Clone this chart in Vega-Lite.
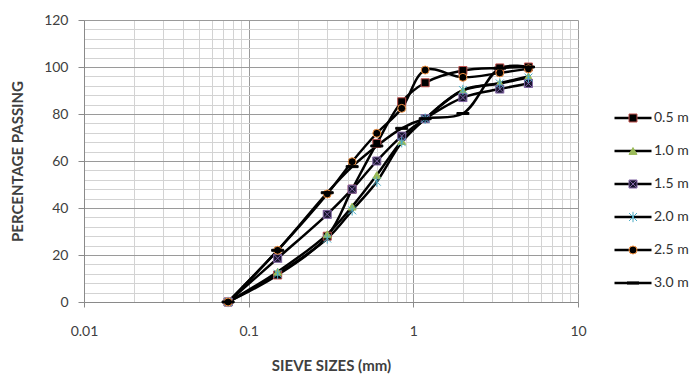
{
  "$schema": "https://vega.github.io/schema/vega-lite/v6.json",
  "width": 494,
  "height": 282,
  "autosize": {"type": "none"},
  "padding": {"left": 84, "top": 20, "right": 116, "bottom": 74},
  "background": "white",
  "config": {
    "font": "Lato",
    "view": {"stroke": null},
    "axis": {"labelFont": "Lato", "titleFont": "Lato", "labelColor": "#404040", "titleColor": "#404040"}
  },
  "data": {
    "values": [
      {"depth": "0.5 m", "size": 0.075, "pass": 0},
      {"depth": "0.5 m", "size": 0.15, "pass": 11.5},
      {"depth": "0.5 m", "size": 0.3, "pass": 28},
      {"depth": "0.5 m", "size": 0.425, "pass": 48},
      {"depth": "0.5 m", "size": 0.6, "pass": 67.5},
      {"depth": "0.5 m", "size": 0.85, "pass": 85.2},
      {"depth": "0.5 m", "size": 1.18, "pass": 93.3},
      {"depth": "0.5 m", "size": 2.0, "pass": 98.5},
      {"depth": "0.5 m", "size": 3.35, "pass": 99.6},
      {"depth": "0.5 m", "size": 5.0, "pass": 100},
      {"depth": "1.0 m", "size": 0.075, "pass": 0},
      {"depth": "1.0 m", "size": 0.15, "pass": 12.9},
      {"depth": "1.0 m", "size": 0.3, "pass": 28.8},
      {"depth": "1.0 m", "size": 0.425, "pass": 40.6},
      {"depth": "1.0 m", "size": 0.6, "pass": 54},
      {"depth": "1.0 m", "size": 0.85, "pass": 68.5},
      {"depth": "1.0 m", "size": 1.18, "pass": 78},
      {"depth": "1.0 m", "size": 2.0, "pass": 90},
      {"depth": "1.0 m", "size": 3.35, "pass": 93.2},
      {"depth": "1.0 m", "size": 5.0, "pass": 96},
      {"depth": "1.5 m", "size": 0.075, "pass": 0},
      {"depth": "1.5 m", "size": 0.15, "pass": 18.6},
      {"depth": "1.5 m", "size": 0.3, "pass": 37.3},
      {"depth": "1.5 m", "size": 0.425, "pass": 48},
      {"depth": "1.5 m", "size": 0.6, "pass": 60},
      {"depth": "1.5 m", "size": 0.85, "pass": 70.6},
      {"depth": "1.5 m", "size": 1.18, "pass": 78},
      {"depth": "1.5 m", "size": 2.0, "pass": 87},
      {"depth": "1.5 m", "size": 3.35, "pass": 90.6},
      {"depth": "1.5 m", "size": 5.0, "pass": 93},
      {"depth": "2.0 m", "size": 0.075, "pass": 0},
      {"depth": "2.0 m", "size": 0.15, "pass": 12},
      {"depth": "2.0 m", "size": 0.3, "pass": 27},
      {"depth": "2.0 m", "size": 0.425, "pass": 39},
      {"depth": "2.0 m", "size": 0.6, "pass": 51.2},
      {"depth": "2.0 m", "size": 0.85, "pass": 68},
      {"depth": "2.0 m", "size": 1.18, "pass": 78},
      {"depth": "2.0 m", "size": 2.0, "pass": 90.2},
      {"depth": "2.0 m", "size": 3.35, "pass": 93},
      {"depth": "2.0 m", "size": 5.0, "pass": 95.5},
      {"depth": "2.5 m", "size": 0.075, "pass": 0},
      {"depth": "2.5 m", "size": 0.15, "pass": 22},
      {"depth": "2.5 m", "size": 0.3, "pass": 46},
      {"depth": "2.5 m", "size": 0.425, "pass": 59.7},
      {"depth": "2.5 m", "size": 0.6, "pass": 71.8},
      {"depth": "2.5 m", "size": 0.85, "pass": 82.4},
      {"depth": "2.5 m", "size": 1.18, "pass": 98.7},
      {"depth": "2.5 m", "size": 2.0, "pass": 95.6},
      {"depth": "2.5 m", "size": 3.35, "pass": 97.5},
      {"depth": "2.5 m", "size": 5.0, "pass": 99.2},
      {"depth": "3.0 m", "size": 0.075, "pass": 0},
      {"depth": "3.0 m", "size": 0.15, "pass": 22},
      {"depth": "3.0 m", "size": 0.3, "pass": 46.5},
      {"depth": "3.0 m", "size": 0.425, "pass": 57.6},
      {"depth": "3.0 m", "size": 0.6, "pass": 66.4},
      {"depth": "3.0 m", "size": 0.85, "pass": 73.9},
      {"depth": "3.0 m", "size": 1.18, "pass": 78},
      {"depth": "3.0 m", "size": 2.0, "pass": 80.2},
      {"depth": "3.0 m", "size": 3.35, "pass": 99.5},
      {"depth": "3.0 m", "size": 5.0, "pass": 100}
    ]
  },
  "encoding": {
    "x": {
      "field": "size", "type": "quantitative",
      "scale": {"type": "log", "domain": [0.01, 10], "nice": false},
      "axis": {
        "title": "SIEVE SIZES (mm)",
        "titleFontSize": 15, "titleFontWeight": "bold", "titlePadding": 20,
        "values": [0.01,0.02,0.03,0.04,0.05,0.06,0.07,0.08,0.09,0.1,0.2,0.3,0.4,0.5,0.6,0.7,0.8,0.9,1,2,3,4,5,6,7,8,9,10],
        "labelExpr": "datum.value == 0.01 ? '0.01' : datum.value == 0.1 ? '0.1' : datum.value == 1 ? '1' : datum.value == 10 ? '10' : ''",
        "labelFontSize": 14, "labelPadding": 17, "labelFlush": false,
        "grid": true,
        "gridColor": {"condition": {"test": "indexof([0.01,0.1,1,10], datum.value) >= 0", "value": "#9a9a9a"}, "value": "#d3d3d3"},
        "gridWidth": 1,
        "tickSize": 5, "tickColor": "#8a8a8a",
        "tickOpacity": {"condition": {"test": "indexof([0.01,0.1,1,10], datum.value) >= 0", "value": 1}, "value": 0},
        "domainColor": "#8a8a8a"
      }
    },
    "y": {
      "field": "pass", "type": "quantitative",
      "scale": {"domain": [0, 120], "nice": false},
      "axis": {
        "title": "PERCENTAGE PASSING",
        "titleFontSize": 15, "titleFontWeight": "bold", "titlePadding": 18,
        "values": [0,4,8,12,16,20,24,28,32,36,40,44,48,52,56,60,64,68,72,76,80,84,88,92,96,100,104,108,112,116,120],
        "labelExpr": "datum.value % 20 === 0 ? datum.label : ''",
        "labelFontSize": 14, "labelPadding": 10,
        "grid": true,
        "gridColor": {"condition": {"test": "datum.value % 20 === 0", "value": "#9a9a9a"}, "value": "#d3d3d3"},
        "tickSize": 6, "tickColor": "#8a8a8a",
        "tickOpacity": {"condition": {"test": "datum.value % 20 === 0", "value": 1}, "value": 0},
        "domainColor": "#8a8a8a"
      }
    }
  },
  "layer": [
    {
      "mark": {"type": "line", "interpolate": "catmull-rom", "strokeWidth": 2.5},
      "encoding": {
        "color": {
          "field": "depth", "type": "nominal",
          "scale": {"range": ["#000000","#000000","#000000","#000000","#000000","#000000"]},
          "legend": {
            "title": null, "orient": "none", "legendX": 529, "legendY": 88,
            "symbolType": "stroke", "symbolSize": 1369, "symbolStrokeWidth": 2.5,
            "clipHeight": 20, "rowPadding": 13,
            "labelFont": "Lato", "labelFontSize": 14, "labelColor": "#303030", "labelOffset": 1
          }
        }
      }
    },
    {
      "mark": {"type": "point", "filled": true, "size": 64, "strokeWidth": 1, "opacity": 1},
      "encoding": {
        "shape": {
          "field": "depth", "type": "nominal",
          "scale": {"range": ["square", "triangle-up", "M-1,-1H1V1H-1Z M-1,-1L1,1 M1,-1L-1,1", "M-1,-1L1,1M-1,1L1,-1M0,-1.3L0,1.3", "circle", "M-1.5,-0.25H1.5V0.25H-1.5Z"]},
          "legend": {
            "title": null, "orient": "none", "legendX": 542, "legendY": 88,
            "symbolSize": 64, "symbolStrokeWidth": 1,
            "clipHeight": 20, "rowPadding": 13,
            "labelExpr": "''", "labelFontSize": 14
          }
        },
        "fill": {
          "field": "depth", "type": "nominal",
          "scale": {"range": ["#000000", "#9BBB59", "#16142C", "transparent", "#000000", "#000000"]}
        },
        "stroke": {
          "field": "depth", "type": "nominal",
          "scale": {"range": ["#C0504D", "#9BBB59", "#8064A2", "#4BACC6", "#F79646", "#000000"]}
        }
      }
    }
  ]
}
